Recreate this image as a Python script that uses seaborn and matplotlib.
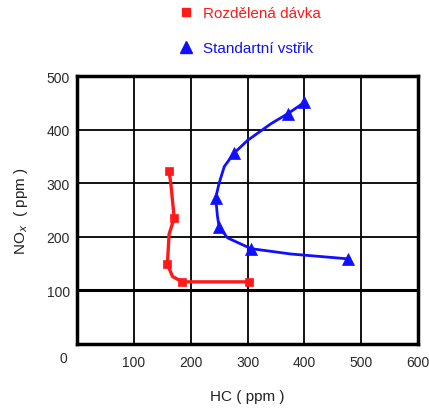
import numpy as np
import pandas as pd
import matplotlib
matplotlib.use("Agg")
import matplotlib.pyplot as plt
import matplotlib.transforms as mtransforms
import seaborn as sns
from matplotlib.lines import Line2D

# Data (traced path of each series)
red_hc = [162, 165, 171, 162, 159, 168, 185, 303]
red_nox = [322, 300, 235, 205, 149, 126, 116, 116]
red_marked = [0, 2, 4, 6, 7]          # indices of points carrying a marker
blue_hc = [400, 371, 341, 300, 276, 259, 250, 244, 247, 250, 265, 306, 376, 476]
blue_nox = [451, 430, 411, 380, 356, 331, 300, 273, 239, 218, 198, 178, 168, 159]
blue_marked = [0, 1, 4, 7, 9, 11, 13]
series_names = ["Rozdělená dávka", "Standartní vstřik"]
xticks = [0, 100, 200, 300, 400, 500, 600]
yticks = [100, 200, 300, 400, 500]

df = pd.DataFrame({
    "HC": red_hc + blue_hc,
    "NOx": red_nox + blue_nox,
    "series": [series_names[0]] * len(red_hc) + [series_names[1]] * len(blue_hc),
    "marked": [i in red_marked for i in range(len(red_hc))]
              + [i in blue_marked for i in range(len(blue_hc))],
})

sns.set_style("white")
plt.rcParams["font.family"] = ["Liberation Sans", "DejaVu Sans"]

fig = plt.figure(figsize=(4.29, 4.14), dpi=100)
ax = fig.add_axes([0.1795, 0.1667, 0.795, 0.647])

colors = {series_names[0]: "#ff1a1a", series_names[1]: "#1010ff"}
markers = {series_names[0]: "s", series_names[1]: "^"}
msize = {series_names[0]: 38, series_names[1]: 75}
lw = {series_names[0]: 2.4, series_names[1]: 2.0}

for name in series_names:
    sub = df[df.series == name]
    sns.lineplot(data=sub, x="HC", y="NOx", sort=False, estimator=None, ax=ax,
                 color=colors[name], linewidth=lw[name], legend=False, zorder=3)
    sns.scatterplot(data=sub[sub.marked], x="HC", y="NOx", ax=ax,
                    color=colors[name], marker=markers[name], s=msize[name],
                    edgecolor=colors[name], linewidth=0.5, legend=False, zorder=4)

ax.set_xlim(0, 600)
ax.set_ylim(0, 500)
ax.set_xticks(xticks)
ax.set_yticks(yticks)
ax.set_xticklabels(["0"] + [str(t) for t in xticks[1:]])
ax.set_yticklabels([str(t) for t in yticks])
ax.tick_params(axis="both", length=0, labelsize=10, colors="#2a2a2a")
ax.tick_params(axis="x", pad=8)
ax.tick_params(axis="y", pad=5)
lbl0 = ax.get_xticklabels()[0]
lbl0.set_transform(lbl0.get_transform() +
                   mtransforms.ScaledTranslation(-10/72, 3/72, fig.dpi_scale_trans))

ax.grid(True, color="black", linewidth=1.3)
ax.axhline(100, color="black", linewidth=2.2, zorder=1)
for s in ax.spines.values():
    s.set_visible(True)
    s.set_color("black")
    s.set_linewidth(2.5)

ax.set_xlabel("HC ( ppm )", fontsize=11, color="#222222", labelpad=14)
ax.set_ylabel("NO$_x$  ( ppm )", fontsize=11, color="#222222", labelpad=12)

handles = [Line2D([], [], linestyle="none", marker=markers[n], color=colors[n],
                  markersize=8 if n == series_names[1] else 6) for n in series_names]
leg = fig.legend(handles, series_names, loc="upper left", bbox_to_anchor=(0.395, 1.005),
                 frameon=False, fontsize=11, handlelength=1.0, handletextpad=0.6,
                 labelspacing=1.4, borderaxespad=0.2)
for t, n in zip(leg.get_texts(), series_names):
    t.set_color(colors[n])

fig.savefig("out.png", dpi=100)
